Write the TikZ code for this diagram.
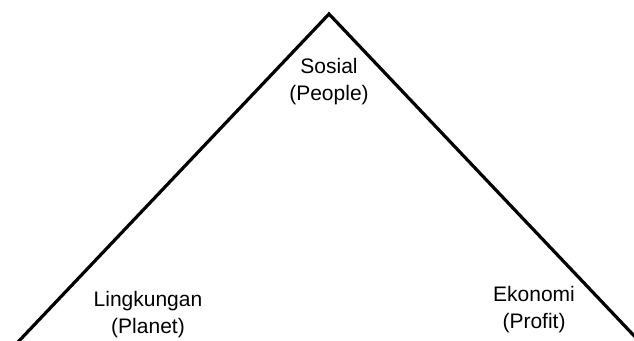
\documentclass[tikz,border=0pt]{standalone}
\usepackage{fontspec}
\setmainfont{Liberation Sans}
\begin{document}
\begin{tikzpicture}[x=1pt,y=-1pt,
  side/.style={line width=3.2pt, line cap=butt, line join=miter},
  lab/.style={align=center, inner sep=0pt, font=\fontsize{21}{27}\selectfont}]
\useasboundingbox (0,0) rectangle (634,340);
\clip (0,0) rectangle (634,340);
\coordinate (apex) at (329,14);
\coordinate (bl) at (18,342);
\coordinate (br) at (640,342);
\draw[side] (bl) -- (apex) -- (br);
\node[lab] (sosial) at (329,82) {Sosial\\(People)};
\node[lab] (ling) at (148,315) {Lingkungan\\(Planet)};
\node[lab] (eko) at (534,310) {Ekonomi\\(Profit)};
\end{tikzpicture}
\end{document}
